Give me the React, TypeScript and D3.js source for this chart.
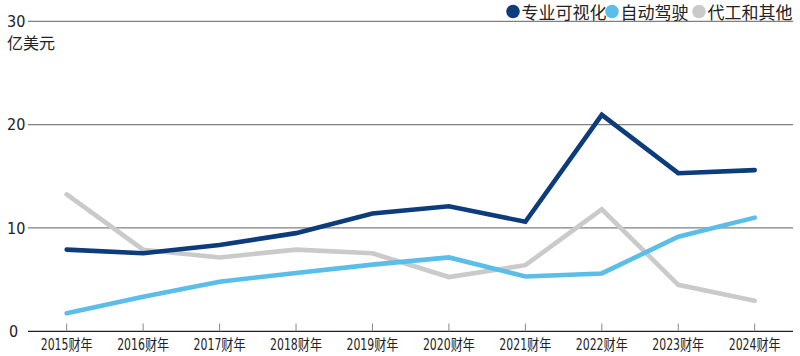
import React from "react";
import * as d3 from "d3";

const years = ["2015财年","2016财年","2017财年","2018财年","2019财年","2020财年","2021财年","2022财年","2023财年","2024财年"];
const proViz = [7.9, 7.55, 8.35, 9.5, 11.4, 12.1, 10.6, 20.95, 15.3, 15.6];
const autoDrive = [1.75, 3.35, 4.8, 5.65, 6.45, 7.15, 5.3, 5.6, 9.15, 11.0];
const oemOther = [13.25, 7.9, 7.15, 7.9, 7.55, 5.25, 6.4, 11.8, 4.5, 2.95];
const yTicks = [0, 10, 20, 30];
const seriesNames = ["专业可视化", "自动驾驶", "代工和其他"];
const colors = ["#0c3c7c", "#5bbdea", "#cacaca"];

export default function App() {
  const W = 800, H = 356;
  const x = d3.scalePoint<string>().domain(years).range([66.7, 754.7]);
  const y = d3.scaleLinear().domain([0, 30]).range([331.3, 21.3]);
  const line = d3.line<number>().x((_, i) => x(years[i])!).y(d => y(d));
  const series = [proViz, autoDrive, oemOther];
  const cjk = "'Noto Sans CJK SC', sans-serif";
  const narrow = "'Liberation Sans Narrow', 'DejaVu Sans Condensed', 'Noto Sans CJK SC', sans-serif";
  const legendX = [513, 612, 699];
  return (
    <svg width={W} height={H} style={{ position: "absolute", left: 0, top: 0, background: "#fff" }}>
      {yTicks.map(t => (
        <g key={t}>
          <line x1={28} x2={793} y1={y(t)} y2={y(t)} stroke={t === 0 ? "#222" : "#808080"} strokeWidth={t === 0 ? 1.3 : 1.2} />
          <text x={t === 0 ? 9 : 7} y={y(t)} dy="0.36em" fontSize={16} fontFamily={narrow} fill="#222">{t}</text>
        </g>
      ))}
      <text x={7} y={49} fontSize={16} fontFamily={cjk} fill="#222">亿美元</text>
      {years.map(yr => (
        <g key={yr}>
          <line x1={x(yr)} x2={x(yr)} y1={323.5} y2={331.3} stroke="#888" strokeWidth={1} />
          <text x={x(yr)} y={349.5} textAnchor="middle" fontSize={15} fontFamily={narrow} fill="#222"
            textLength={52} lengthAdjust="spacingAndGlyphs">{yr}</text>
        </g>
      ))}
      {series.map((s, i) => (
        <path key={i} d={line(s)!} fill="none" stroke={colors[i]} strokeWidth={4.6} strokeLinejoin="miter" strokeLinecap="round" />
      )).reverse()}
      {seriesNames.map((n, i) => (
        <g key={n}>
          <circle cx={legendX[i]} cy={11.5} r={6.8} fill={colors[i]} />
          <text x={legendX[i] + 8.5} y={19} fontSize={17} fontFamily={cjk} fill="#222">{n}</text>
        </g>
      ))}
    </svg>
  );
}
